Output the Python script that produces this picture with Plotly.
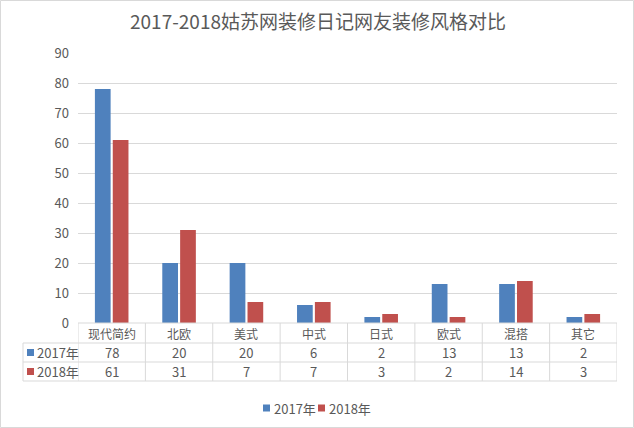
import plotly.graph_objects as go

categories = ["现代简约", "北欧", "美式", "中式", "日式", "欧式", "混搭", "其它"]
values_2017 = [78, 20, 20, 6, 2, 13, 13, 2]
values_2018 = [61, 31, 7, 7, 3, 2, 14, 3]
series_names = ["2017年", "2018年"]
colors = ["#4f81bd", "#c0504d"]
title = "2017-2018姑苏网装修日记网友装修风格对比"

W, H = 634, 428
ML, MR, MT, MB = 78, 17, 53, 105
PW, PH = W - ML - MR, H - MT - MB

def py(p):  # pixel y -> paper y
    return (H - MB - p) / PH

def px(p):  # pixel x -> paper x
    return (p - ML) / PW

FONT = "Noto Sans CJK SC, Microsoft YaHei, sans-serif"
TXT = "#595959"
GRID = "#d9d9d9"

fig = go.Figure()
for name, vals, c in zip(series_names, [values_2017, values_2018], colors):
    fig.add_trace(go.Bar(x=list(range(len(categories))), y=vals, name=name,
                         marker=dict(color=c, line=dict(width=0)), showlegend=False,
                         hoverinfo="skip"))

shapes = []
annotations = []
n = len(categories)
row_y = [323, 343, 362, 381]
# horizontal lines
shapes.append(dict(type="line", xref="paper", yref="paper", x0=px(78), x1=px(617),
                   y0=py(323), y1=py(323), line=dict(color=GRID, width=1)))
for yy in row_y[1:]:
    shapes.append(dict(type="line", xref="paper", yref="paper", x0=px(23), x1=px(617),
                       y0=py(yy), y1=py(yy), line=dict(color=GRID, width=1)))
# vertical lines
shapes.append(dict(type="line", xref="paper", yref="paper", x0=px(23), x1=px(23),
                   y0=py(343), y1=py(381), line=dict(color=GRID, width=1)))
for i in range(n + 1):
    shapes.append(dict(type="line", xref="x", yref="paper", x0=i - 0.5, x1=i - 0.5,
                       y0=py(323), y1=py(381), line=dict(color=GRID, width=1)))
# chart border
shapes.append(dict(type="rect", xref="paper", yref="paper", x0=px(0.5), x1=px(633.5),
                   y0=py(427.5), y1=py(0.5), line=dict(color=GRID, width=1)))

for i, cat in enumerate(categories):
    annotations.append(dict(x=i, y=py(333), xref="x", yref="paper", text=cat,
                            xanchor="center", yanchor="middle",
                            showarrow=False, font=dict(size=12, color=TXT, family=FONT)))
    for r, vals in enumerate([values_2017, values_2018]):
        annotations.append(dict(x=i, y=py(352.5 + 19 * r), xref="x", yref="paper",
                                text=str(vals[i]), showarrow=False,
                                xanchor="center", yanchor="middle",
                                font=dict(size=13, color=TXT, family=FONT)))
for r, (name, c) in enumerate(zip(series_names, colors)):
    yc = 352.5 + 19 * r
    shapes.append(dict(type="rect", xref="paper", yref="paper", x0=px(27), x1=px(34),
                       y0=py(yc + 3.5), y1=py(yc - 3.5), fillcolor=c, line=dict(width=0)))
    annotations.append(dict(x=px(35), y=py(yc), xref="paper", yref="paper", text=name,
                            xanchor="left", yanchor="middle", showarrow=False,
                            font=dict(size=13, color=TXT, family=FONT)))

# manual legend
leg_x = [263, 318]
for name, c, lx in zip(series_names, colors, leg_x):
    shapes.append(dict(type="rect", xref="paper", yref="paper", x0=px(lx), x1=px(lx + 7),
                       y0=py(411.5), y1=py(404.5), fillcolor=c, line=dict(width=0)))
    annotations.append(dict(x=px(lx + 9), y=py(408), xref="paper", yref="paper", text=name,
                            xanchor="left", yanchor="middle", showarrow=False,
                            font=dict(size=13, color=TXT, family=FONT)))

fig.update_layout(
    width=W, height=H,
    margin=dict(l=ML, r=MR, t=MT, b=MB, autoexpand=False),
    paper_bgcolor="white", plot_bgcolor="white",
    title=dict(text=title, x=318 / W, xref="container", xanchor="center",
               y=1 - 22 / H, yanchor="middle",
               font=dict(size=19, color=TXT, family=FONT)),
    barmode="group", bargap=0.47, bargroupgap=0.12,
    showlegend=False,
    xaxis=dict(range=[-0.5, n - 0.5], showticklabels=False, showgrid=False,
               zeroline=False, showline=False, ticks="", fixedrange=True),
    yaxis=dict(range=[0, 90], dtick=10, showgrid=True, gridcolor=GRID, gridwidth=1,
               zeroline=False, showline=False, ticks="", fixedrange=True,
               tickfont=dict(size=13, color=TXT, family=FONT), ticklabelstandoff=8),
    shapes=shapes, annotations=annotations,
)

fig.write_html("out.html", config={"displayModeBar": False},
               post_script="document.body.style.margin='0';document.body.style.padding='0';")
